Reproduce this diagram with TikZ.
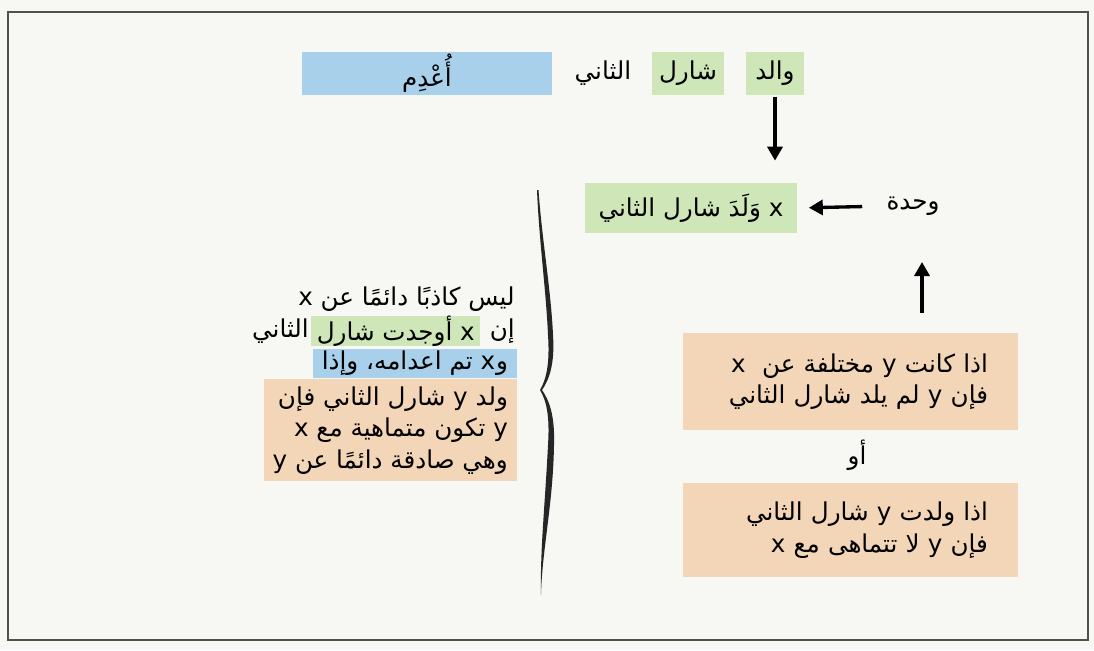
\documentclass[tikz,border=0pt]{standalone}
\usepackage{fontspec}
\usetikzlibrary{arrows.meta,positioning}
\newfontfamily\arabicfont[Script=Arabic]{DejaVu Sans}
\TeXXeTstate=1
\newcommand{\rtl}[1]{\beginR #1\endR}
\definecolor{paper}{HTML}{F7F7F3}
\definecolor{leafgreen}{HTML}{CFE6B8}
\definecolor{skyblue}{HTML}{A8D0EA}
\definecolor{peach}{HTML}{F3D5B8}
\definecolor{framegray}{HTML}{505050}
\begin{document}
\begin{tikzpicture}[x=0.02cm,y=-0.02cm,
  every node/.style={font=\arabicfont\fontsize{14}{18}\selectfont,inner sep=0pt},
  greenbox/.style={fill=leafgreen,minimum height=0.86cm},
  bluebox/.style={fill=skyblue},
  peachbox/.style={fill=peach,align=right,inner xsep=0.6cm,text width=5.5cm},
  peachlines/.style={fill=peach,align=right,inner xsep=5pt,inner ysep=4pt},
  bigarrow/.style={line width=1.9pt,-{Triangle[length=0.28cm,width=0.3cm]}}]
\fill[paper] (0,0) rectangle (1094,650);
\useasboundingbox (0,0) rectangle (1094,650);
\draw[framegray,line width=0.8pt] (8,12) rectangle (1088,640);
% top row
\node[greenbox,minimum width=1.16cm] (walid) at (775,73) {والد};
\node[greenbox,minimum width=1.44cm] (charles) at (688,73) {شارل};
\node (second) at (603,73) {الثاني};
\node[bluebox,minimum width=5.02cm,minimum height=0.86cm] (executed) at (427,73) {أُعْدِم};
% middle
\node[greenbox,minimum width=4.26cm,minimum height=1.0cm] (son) at (691,208) {\rtl{x وَلَدَ شارل الثاني}};
\node (unit) at (913,206) {وحدة};
\coordinate (uptip) at (922,262);
\node[peachbox,minimum height=1.94cm] (diff) at (850.5,381.5) {\rtl{اذا كانت y مختلفة عن~~x}\\\rtl{فإن y لم يلد شارل الثاني}};
\node (or) at (857,455) {أو};
\node[peachbox,minimum height=1.88cm] (same) at (850.5,530) {\rtl{اذا ولدت y شارل الثاني}\\\rtl{فإن y لا تتماهى مع x}};
\draw[bigarrow,shorten <=1pt,shorten >=0.44cm] (walid.south) -- (walid.south |- son.north);
\draw[bigarrow,shorten <=0.48cm,shorten >=0.22cm] (unit.west) -- (son.east);
\draw[bigarrow,shorten <=0.4cm] (uptip |- diff.north) -- (uptip);
% brace
\fill[black!85] (537,190) .. controls (539,240) and (546,290) .. (548,335)
  .. controls (550,364) and (546,380) .. (540,390)
  .. controls (546,400) and (550,415) .. (548,445)
  .. controls (545,505) and (540,550) .. (541,595)
  .. controls (542,550) and (553,505) .. (554,445)
  .. controls (555,415) and (549,400) .. (542,390)
  .. controls (549,380) and (555,364) .. (553,335)
  .. controls (551,290) and (542,240) .. (538.5,190) -- cycle;
% left text
\node[anchor=east] (never) at (515,299) {\rtl{ليس كاذبًا دائمًا عن x}};
\node[anchor=east] (if) at (515,331) {إن};
\node[greenbox,minimum height=0.56cm,inner xsep=3pt,left=0.18cm of if] (made) {\rtl{x أوجدت شارل}};
\node[left=0.04cm of made] (l2end) {الثاني};
\node[bluebox,anchor=east,minimum height=0.58cm,inner xsep=5pt] (killed) at (517,363) {\rtl{و\kern0.5pt x تم اعدامه، وإذا}};
\node[peachlines,anchor=north east] (then) at (517,379) {\rtl{ولد y شارل الثاني فإن}\\\rtl{y تكون متماهية مع x}\\\rtl{وهي صادقة دائمًا عن y}};
\end{tikzpicture}
\end{document}
